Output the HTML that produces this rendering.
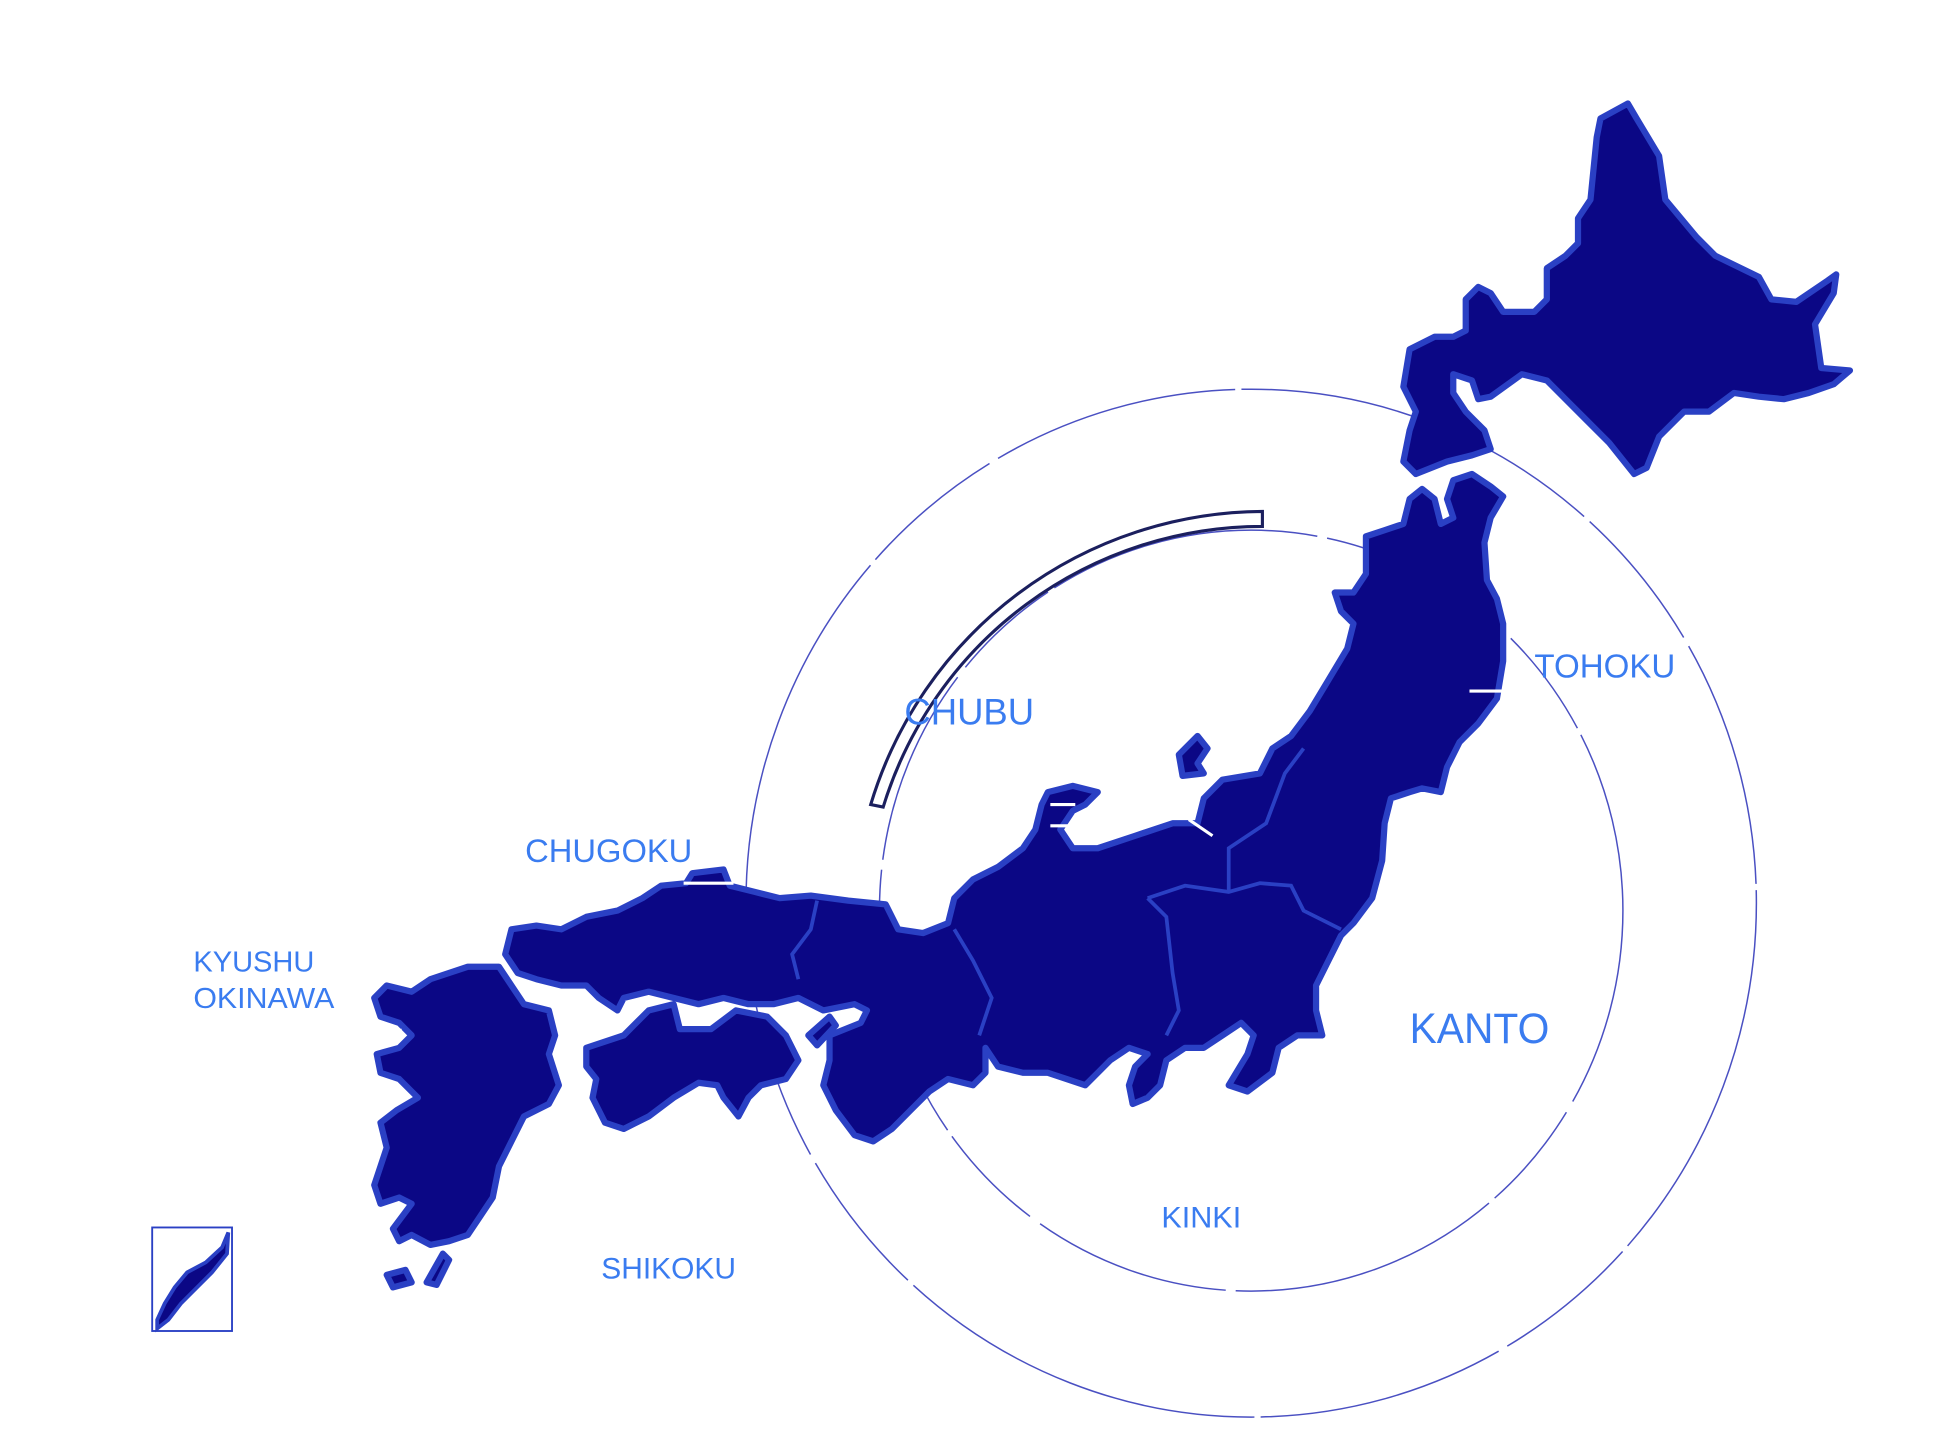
<!DOCTYPE html>
<html><head><meta charset="utf-8"><style>
html,body{margin:0;padding:0;background:#fff;}
svg{display:block;}
text{font-family:"Liberation Sans",sans-serif;fill:#3a7cf0;}
</style></head><body>
<svg width="1946" height="1452" viewBox="0 0 1560 1164" preserveAspectRatio="none" xmlns="http://www.w3.org/2000/svg">
<g fill="none" stroke="#4a50c2" stroke-width="1.2">
<ellipse cx="1003" cy="724" rx="405" ry="412" stroke-dasharray="300 6 120 8 200 5"/>
<ellipse cx="1003" cy="730" rx="298" ry="305" stroke-dasharray="160 10 90 6 220 8"/>
</g>
<path d="M1012,410 A330,330 0 0 0 698,645 L708,647 A318,318 0 0 1 1012,422 Z" fill="none" stroke="#1b1f5e" stroke-width="2.5"/>
<g fill="#0b0785" stroke="#2a40c4" stroke-width="5" stroke-linejoin="round">
<path d="M1283,95 L1305,83 L1312,95 L1330,125 L1335,160 L1360,190 L1375,205 L1410,222 L1420,240 L1440,242 L1465,225 L1472,220 L1470,235 L1455,260 L1460,295 L1483,297 L1470,308 L1450,315 L1430,320 L1410,318 L1390,315 L1370,330 L1350,330 L1330,350 L1320,375 L1310,380 L1290,355 L1270,335 L1255,320 L1240,305 L1220,300 L1195,318 L1185,320 L1180,305 L1165,300 L1165,315 L1175,330 L1190,345 L1195,360 L1180,365 L1160,370 L1135,380 L1125,370 L1130,345 L1135,330 L1125,310 L1130,280 L1150,270 L1165,270 L1175,265 L1175,240 L1185,230 L1195,235 L1205,250 L1230,250 L1240,240 L1240,215 L1255,205 L1265,195 L1265,175 L1275,160 L1278,130 L1280,110 Z"/>
<path d="M1165,385 L1180,380 L1195,390 L1205,398 L1195,415 L1190,435 L1192,465 L1200,480 L1205,500 L1205,530 L1200,560 L1185,580 L1170,595 L1160,615 L1155,635 L1140,632 L1130,635 L1115,640 L1110,660 L1108,690 L1100,720 L1085,740 L1075,750 L1065,770 L1055,790 L1055,810 L1060,830 L1040,830 L1025,840 L1020,860 L1000,875 L985,870 L1000,845 L1005,830 L995,820 L980,830 L965,840 L950,840 L935,850 L930,870 L920,880 L908,885 L905,870 L910,855 L920,845 L905,840 L890,850 L880,860 L870,870 L855,865 L840,860 L820,860 L800,855 L790,840 L790,860 L780,870 L760,865 L745,875 L730,890 L715,905 L700,915 L685,910 L670,890 L660,870 L665,850 L665,830 L690,820 L695,810 L685,805 L660,810 L640,800 L620,805 L600,805 L580,800 L560,805 L540,800 L520,795 L500,800 L495,810 L480,800 L470,790 L450,790 L430,785 L415,780 L405,765 L410,745 L430,742 L450,745 L470,735 L495,730 L515,720 L530,710 L550,708 L555,700 L580,697 L585,710 L605,715 L625,720 L650,718 L680,722 L710,725 L720,745 L740,748 L760,740 L765,720 L780,705 L800,695 L820,680 L830,665 L835,645 L840,635 L860,630 L880,635 L870,645 L860,650 L850,665 L860,680 L880,680 L910,670 L940,660 L960,660 L965,640 L980,625 L1010,620 L1020,600 L1035,590 L1050,570 L1065,545 L1080,520 L1085,500 L1075,490 L1070,475 L1085,475 L1095,460 L1095,430 L1110,425 L1125,420 L1130,400 L1140,392 L1150,400 L1155,420 L1165,415 L1160,400 Z"/>
<path d="M470,840 L500,830 L520,810 L540,805 L545,825 L570,825 L590,810 L615,815 L630,830 L640,850 L630,865 L610,870 L600,880 L592,895 L580,880 L575,870 L560,868 L540,880 L520,895 L500,905 L485,900 L475,880 L478,865 L470,855 Z"/>
<path d="M345,785 L375,775 L400,775 L410,790 L420,805 L440,810 L445,830 L440,845 L448,870 L440,885 L420,895 L410,915 L400,935 L395,960 L385,975 L375,990 L360,995 L345,998 L330,990 L320,995 L315,985 L330,965 L320,960 L305,965 L300,950 L305,935 L310,920 L305,900 L318,890 L335,880 L320,865 L305,860 L302,845 L320,840 L330,830 L320,820 L305,815 L300,800 L310,790 L330,795 Z"/>
<path d="M945,605 L960,590 L968,600 L960,612 L965,620 L948,622 Z"/>
<path d="M648,830 L665,815 L670,822 L655,838 Z"/>
<path d="M310,1022 L325,1018 L330,1028 L315,1032 Z"/>
<path d="M342,1028 L355,1005 L360,1010 L350,1030 Z"/>
</g>
<g fill="none" stroke="#2a40c4" stroke-width="3">
<path d="M655,722 L650,745 L635,765 L640,785"/>
<path d="M765,745 L780,770 L795,800 L785,830"/>
<path d="M920,720 L935,735 L940,780 L945,810 L935,830"/>
<path d="M985,715 L985,680 L1015,660 L1030,620 L1045,600"/>
<path d="M920,720 L950,710 L985,715 L1010,708 L1035,710 L1045,730 L1075,745"/>
</g>
<g stroke="#fff" stroke-width="2.5">
<line x1="1178" y1="554" x2="1206" y2="554"/>
<line x1="548" y1="708" x2="588" y2="708"/>
<line x1="953" y1="657" x2="972" y2="670"/>
<line x1="297" y1="826" x2="322" y2="826"/>
<line x1="842" y1="645" x2="862" y2="645"/>
<line x1="842" y1="662" x2="856" y2="662"/>
</g>
<rect x="122" y="984" width="64" height="83" fill="none" stroke="#2a40c4" stroke-width="1.5"/>
<path d="M183,988 L178,1000 L165,1012 L150,1020 L140,1032 L132,1045 L126,1058 L126,1065 L135,1058 L145,1045 L155,1035 L170,1020 L182,1005 Z" fill="#0b0785" stroke="#2a40c4" stroke-width="3"/>
<text x="725" y="581" font-size="30" textLength="104" lengthAdjust="spacingAndGlyphs">CHUBU</text>
<text x="1230" y="543" font-size="27" textLength="113" lengthAdjust="spacingAndGlyphs">TOHOKU</text>
<text x="421" y="691" font-size="26" textLength="134" lengthAdjust="spacingAndGlyphs">CHUGOKU</text>
<text x="155" y="779" font-size="23" textLength="97" lengthAdjust="spacingAndGlyphs">KYUSHU</text>
<text x="155" y="808" font-size="23" textLength="113" lengthAdjust="spacingAndGlyphs">OKINAWA</text>
<text x="1130" y="836" font-size="34" textLength="112" lengthAdjust="spacingAndGlyphs">KANTO</text>
<text x="931" y="984" font-size="24" textLength="64" lengthAdjust="spacingAndGlyphs">KINKI</text>
<text x="482" y="1025" font-size="24" textLength="108" lengthAdjust="spacingAndGlyphs">SHIKOKU</text>
</svg>
</body></html>
